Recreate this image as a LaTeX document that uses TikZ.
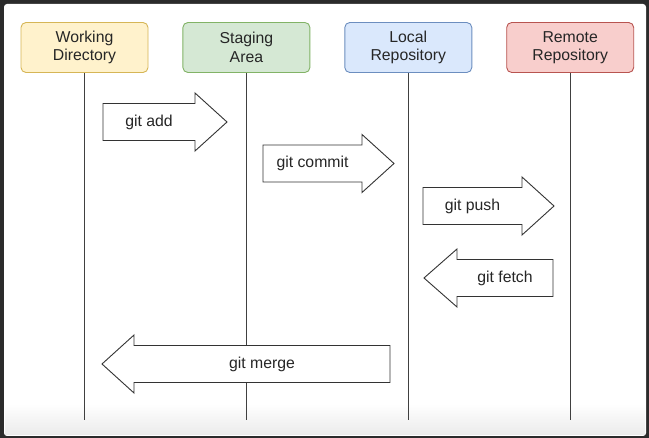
\documentclass[tikz,border=0pt]{standalone}
\usepackage{fontspec}
\setmainfont{Liberation Sans}
\usetikzlibrary{positioning}
\definecolor{wdfill}{HTML}{FFF2CC}\definecolor{wdline}{HTML}{D6B656}
\definecolor{safill}{HTML}{D5E8D4}\definecolor{saline}{HTML}{82B366}
\definecolor{lrfill}{HTML}{DAE8FC}\definecolor{lrline}{HTML}{6C8EBF}
\definecolor{rrfill}{HTML}{F8CECC}\definecolor{rrline}{HTML}{B85450}
\definecolor{bgdark}{HTML}{2B2B2B}
\tikzset{
  stage/.style={draw, rounded corners=5pt, line width=0.9pt, minimum width=127pt,
    minimum height=50pt, inner sep=0pt, align=center, text=black!85,
    font=\fontsize{15.8}{18.5}\selectfont},
  lifeline/.style={line width=1pt, draw=black!75},
  cmdarrow/.style={draw=black!80, line width=0.9pt, fill=white, line join=miter},
  cmd/.style={inner sep=0pt, text=black!85, font=\fontsize{15.8}{18.5}\selectfont}
}
%% name, left, head base, tip, centre y, label
\newcommand{\rightcmd}[6]{%
  \draw[cmdarrow] (#2,#5-18.5) -- (#3,#5-18.5) -- (#3,#5-29) -- (#4,#5)
    -- (#3,#5+29) -- (#3,#5+18.5) -- (#2,#5+18.5) -- cycle;
  \node[cmd] (#1) at ({(#2+#3)/2},#5) {#6};}
%% name, right, head base, tip, centre y, label
\newcommand{\leftcmd}[6]{%
  \draw[cmdarrow] (#2,#5-18.5) -- (#3,#5-18.5) -- (#3,#5-29) -- (#4,#5)
    -- (#3,#5+29) -- (#3,#5+18.5) -- (#2,#5+18.5) -- cycle;
  \node[cmd] (#1) at ({(#2+#3)/2},#5) {#6};}
\begin{document}
\begin{tikzpicture}[x=1pt, y=-1pt]
\useasboundingbox (0,0) rectangle (649,438);
%% screen and panel
\fill[bgdark] (0,0) rectangle (649,438);
\fill[white, rounded corners=3pt] (4,4) rectangle (646,436);
\shade[top color=white, bottom color=black!8] (5,404) rectangle (645,435);

%%% the four places %%%
\node[stage, fill=wdfill, draw=wdline] (wd) at (84.5,47.5) {Working\\Directory};
\node[stage, fill=safill, draw=saline, right=34pt of wd] (sa) {Staging\\Area};
\node[stage, fill=lrfill, draw=lrline, right=34pt of sa] (lr) {Local\\Repository};
\node[stage, fill=rrfill, draw=rrline, right=34pt of lr] (rr) {Remote\\Repository};

%% lifelines
\coordinate (bottom) at (0,420);
\foreach \s in {wd,sa,lr,rr}
  \draw[lifeline] (\s.south) -- (\s.south |- bottom);

%%% commands %%%
\rightcmd{add}{103}{195}{227}{122}{git add}
\rightcmd{commit}{263}{362}{394}{163.5}{git commit}
\rightcmd{push}{423}{522}{554}{206}{git push}
\leftcmd{fetch}{553}{457}{424}{278}{git fetch}
\leftcmd{merge}{390}{134}{102}{364}{git merge}

\end{tikzpicture}
\end{document}
